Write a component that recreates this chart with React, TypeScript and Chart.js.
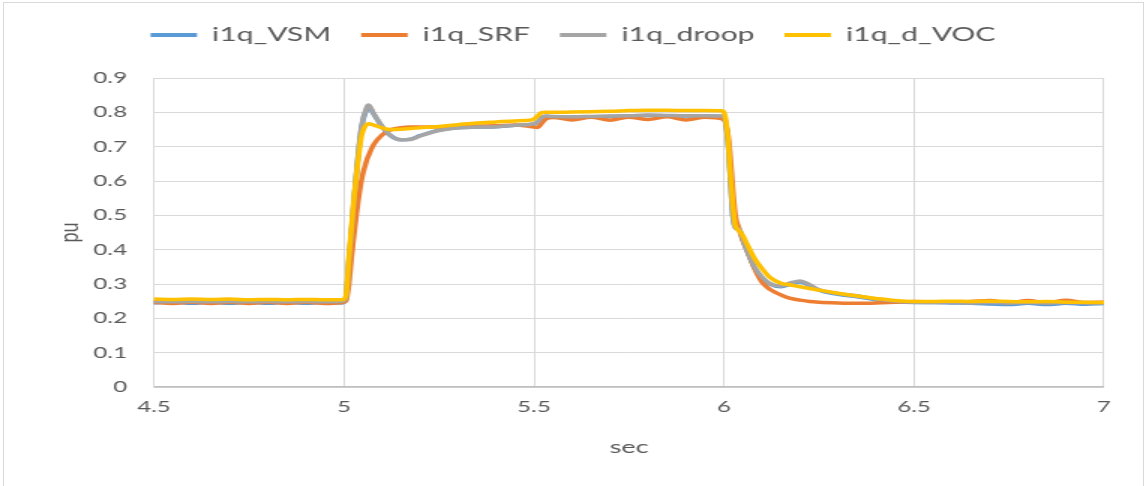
import React, { useEffect, useRef } from "react";
import { Chart, registerables } from "chart.js";

Chart.register(...registerables);

// Sample times (sec)
const TIME = [
  4.5, 4.55, 4.6, 4.65, 4.7, 4.75, 4.8, 4.85, 4.9, 4.95, 4.995,
  5.005, 5.013, 5.02, 5.025, 5.033, 5.046, 5.06, 5.065, 5.078, 5.1, 5.12, 5.15, 5.175, 5.2, 5.25, 5.3, 5.35, 5.4, 5.45, 5.495,
  5.51, 5.52, 5.53, 5.55, 5.6, 5.65, 5.7, 5.75, 5.8, 5.85, 5.9, 5.95, 5.998,
  6.01, 6.016, 6.023, 6.03, 6.04, 6.05, 6.06, 6.08, 6.1, 6.12, 6.15, 6.175, 6.2, 6.225, 6.25, 6.3, 6.35, 6.4, 6.45, 6.5,
  6.55, 6.6, 6.65, 6.7, 6.75, 6.8, 6.85, 6.9, 6.95, 7.0,
];

// q-axis current, pu
const I1Q_VSM = [
  0.245, 0.247, 0.244, 0.247, 0.244, 0.247, 0.244, 0.247, 0.244, 0.247, 0.245,
  0.258, 0.365, 0.455, 0.525, 0.625, 0.755, 0.81, 0.816, 0.795, 0.758, 0.734, 0.72, 0.722, 0.732, 0.748, 0.755, 0.757, 0.758, 0.762, 0.765,
  0.771, 0.784, 0.788, 0.787, 0.786, 0.787, 0.788, 0.789, 0.791, 0.79, 0.789, 0.789, 0.788,
  0.72, 0.62, 0.5, 0.464, 0.458, 0.428, 0.398, 0.348, 0.318, 0.3, 0.292, 0.3, 0.306, 0.296, 0.282, 0.27, 0.263, 0.254, 0.248, 0.246,
  0.246, 0.245, 0.244, 0.242, 0.24, 0.244, 0.24, 0.244, 0.241, 0.243,
];

const I1Q_SRF = [
  0.247, 0.243, 0.247, 0.243, 0.247, 0.243, 0.247, 0.243, 0.247, 0.243, 0.246,
  0.25, 0.3, 0.38, 0.43, 0.506, 0.603, 0.661, 0.675, 0.706, 0.734, 0.748, 0.755, 0.757, 0.757, 0.757, 0.758, 0.76, 0.761, 0.763, 0.758,
  0.756, 0.768, 0.78, 0.785, 0.778, 0.786, 0.777, 0.786, 0.779, 0.787, 0.778, 0.786, 0.78,
  0.74, 0.68, 0.58, 0.5, 0.46, 0.425, 0.4, 0.345, 0.305, 0.285, 0.268, 0.258, 0.253, 0.249, 0.247, 0.245, 0.244, 0.245, 0.247, 0.249,
  0.247, 0.247, 0.249, 0.252, 0.245, 0.252, 0.245, 0.253, 0.246, 0.247,
];

const I1Q_DROOP = [
  0.249, 0.248, 0.249, 0.248, 0.249, 0.248, 0.249, 0.248, 0.249, 0.248, 0.249,
  0.26, 0.37, 0.46, 0.53, 0.63, 0.76, 0.815, 0.821, 0.797, 0.76, 0.735, 0.72, 0.721, 0.731, 0.747, 0.755, 0.757, 0.758, 0.762, 0.766,
  0.772, 0.785, 0.789, 0.788, 0.787, 0.788, 0.789, 0.79, 0.792, 0.791, 0.79, 0.79, 0.789,
  0.72, 0.62, 0.5, 0.465, 0.46, 0.43, 0.4, 0.35, 0.32, 0.302, 0.294, 0.303, 0.309, 0.298, 0.283, 0.272, 0.266, 0.256, 0.25, 0.247,
  0.246, 0.246, 0.245, 0.246, 0.245, 0.246, 0.245, 0.246, 0.245, 0.245,
];

const I1Q_D_VOC = [
  0.256, 0.255, 0.256, 0.255, 0.256, 0.254, 0.255, 0.254, 0.255, 0.254, 0.254,
  0.265, 0.38, 0.47, 0.535, 0.62, 0.73, 0.765, 0.767, 0.763, 0.755, 0.75, 0.751, 0.753, 0.755, 0.759, 0.764, 0.769, 0.772, 0.775, 0.778,
  0.79, 0.799, 0.8, 0.8, 0.801, 0.802, 0.803, 0.805, 0.806, 0.806, 0.805, 0.805, 0.804,
  0.73, 0.63, 0.535, 0.47, 0.455, 0.44, 0.418, 0.375, 0.345, 0.32, 0.302, 0.297, 0.292, 0.287, 0.282, 0.273, 0.265, 0.258, 0.252, 0.249,
  0.249, 0.25, 0.249, 0.25, 0.249, 0.248, 0.249, 0.247, 0.247, 0.246,
];

const SERIES_NAMES = ["i1q_VSM", "i1q_SRF", "i1q_droop", "i1q_d_VOC"];
const SERIES_VALUES = [I1Q_VSM, I1Q_SRF, I1Q_DROOP, I1Q_D_VOC];
const SERIES_COLORS = ["#5B9BD5", "#ED7D31", "#A5A5A5", "#FFC000"];

const X_MIN = 4.5;
const X_MAX = 7;
const X_STEP = 0.5;
const Y_MIN = 0;
const Y_MAX = 0.9;
const Y_STEP = 0.1;

// The chart is laid out on a narrower canvas and widened horizontally.
const STRETCH = 1.5;
const PAGE_W = 1146;
const PAGE_H = 486;
const INNER_W = PAGE_W / STRETCH;

const FONT = "Lato, 'Open Sans', 'DejaVu Sans', sans-serif";
const TEXT_COLOR = "#595959";
const GRID_COLOR = "#D9D9D9";

const TOP_PAD = 5;
const LEGEND_HEIGHT = 73;

const legendHeightPlugin = {
  id: "legendHeight",
  afterInit(chart: any) {
    const lg = chart.legend;
    if (!lg) return;
    const fit = lg.fit.bind(lg);
    lg.fit = () => {
      fit();
      lg.height = LEGEND_HEIGHT;
    };
  },
};

export default function App() {
  const canvasRef = useRef<HTMLCanvasElement | null>(null);

  useEffect(() => {
    if (!canvasRef.current) return;
    const datasets = SERIES_NAMES.map((name, k) => ({
      label: name,
      data: TIME.map((t, i) => ({ x: t, y: SERIES_VALUES[k][i] })),
      borderColor: SERIES_COLORS[k],
      backgroundColor: SERIES_COLORS[k],
      borderWidth: 3.5,
      pointRadius: 0,
      pointHoverRadius: 0,
      cubicInterpolationMode: "monotone" as const,
      borderJoinStyle: "round" as const,
      borderCapStyle: "round" as const,
      fill: false,
      order: SERIES_NAMES.length - k,
      yAxisID: "y",
    }));

    const chart = new Chart(canvasRef.current, {
      type: "line",
      data: { datasets },
      plugins: [legendHeightPlugin],
      options: {
        animation: false,
        responsive: true,
        maintainAspectRatio: false,
        layout: { padding: { top: TOP_PAD, left: 0, right: 0, bottom: 0 } },
        plugins: {
          tooltip: { enabled: false },
          legend: {
            display: true,
            position: "top",
            labels: {
              color: TEXT_COLOR,
              font: { family: FONT, size: 20 },
              boxWidth: 31,
              boxHeight: 4,
              padding: 20,
              sort: (a: any, b: any) => a.datasetIndex - b.datasetIndex,
              generateLabels: (c: any) =>
                (Chart.defaults.plugins.legend.labels as any)
                  .generateLabels(c)
                  .map((l: any) => ({ ...l, lineWidth: 0, fillStyle: l.strokeStyle })),
            },
          },
        },
        scales: {
          x: {
            type: "linear",
            min: X_MIN,
            max: X_MAX,
            ticks: {
              stepSize: X_STEP,
              color: TEXT_COLOR,
              font: { family: FONT, size: 16 },
              padding: 10,
              maxRotation: 0,
              callback: (v: any) => String(Number(v)),
            },
            grid: { color: GRID_COLOR, lineWidth: 1, drawTicks: false },
            border: { display: true, color: "#BFBFBF", width: 1.5 },
            title: {
              display: true,
              text: "sec",
              color: TEXT_COLOR,
              font: { family: FONT, size: 18 },
              padding: { top: 4, bottom: 28 },
            },
            afterFit: (scale: any) => {
              scale.height = PAGE_H - 387;
            },
          },
          y: {
            type: "linear",
            position: "left",
            min: Y_MIN,
            max: Y_MAX,
            ticks: {
              stepSize: Y_STEP,
              color: TEXT_COLOR,
              font: { family: FONT, size: 16 },
              padding: 18,
            },
            grid: { color: GRID_COLOR, lineWidth: 1, drawTicks: false },
            border: { display: true, color: GRID_COLOR, width: 1 },
            title: {
              display: true,
              text: "pu",
              color: TEXT_COLOR,
              font: { family: FONT, size: 18 },
              padding: { top: 35, bottom: 0 },
            },
            afterFit: (scale: any) => {
              scale.width = 154 / STRETCH;
            },
          },
          // empty right-hand margin box beside the plot area
          margin: {
            type: "linear",
            position: "right",
            display: true,
            grid: { display: false },
            border: { display: false },
            ticks: { display: false },
            afterFit: (scale: any) => {
              scale.width = INNER_W - 1104 / STRETCH;
            },
          },
        },
      },
    });
    return () => chart.destroy();
  }, []);

  return (
    <div
      style={{
        position: "fixed",
        left: 0,
        top: 0,
        width: PAGE_W,
        height: PAGE_H,
        overflow: "hidden",
        background: "#fff",
      }}
    >
      <div
        style={{
          position: "absolute",
          left: 3,
          top: 2,
          width: 1141,
          height: 520,
          border: "1px solid #D9D9D9",
          boxSizing: "border-box",
        }}
      />
      <div
        style={{
          position: "absolute",
          left: 0,
          top: 0,
          width: INNER_W,
          height: PAGE_H,
          transform: `scaleX(${STRETCH})`,
          transformOrigin: "0 0",
        }}
      >
        <canvas ref={canvasRef} />
      </div>
    </div>
  );
}
